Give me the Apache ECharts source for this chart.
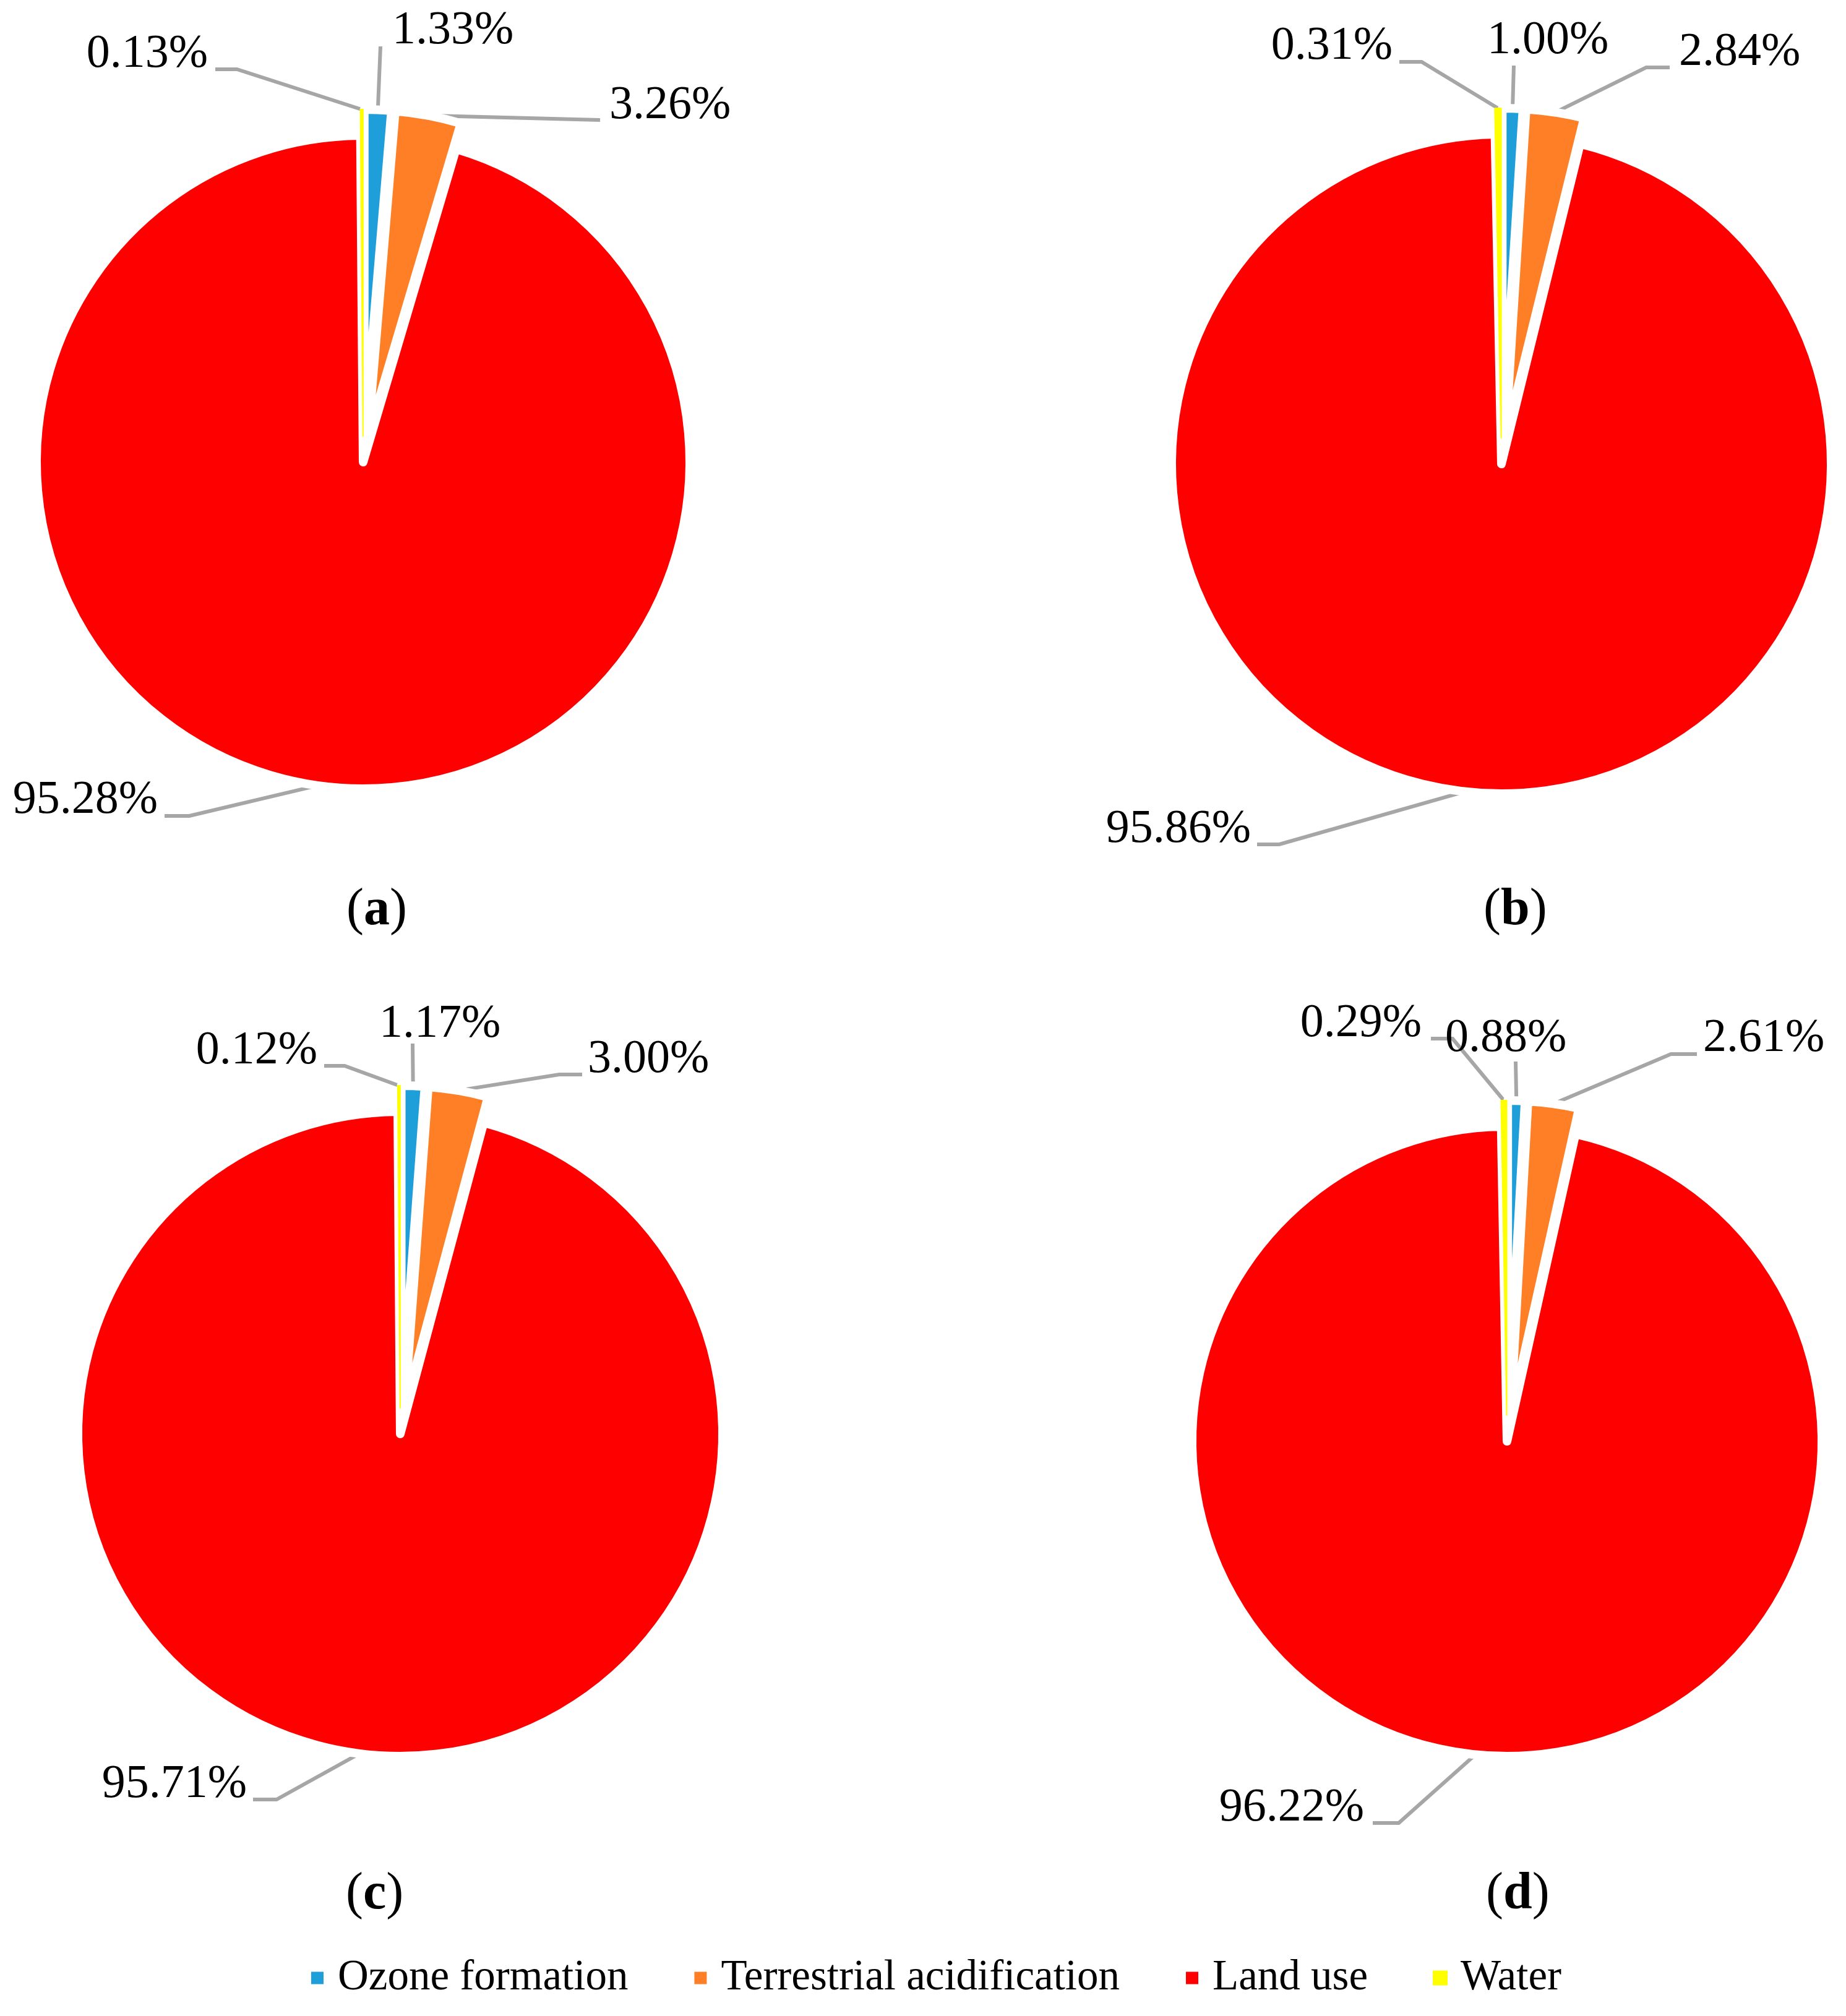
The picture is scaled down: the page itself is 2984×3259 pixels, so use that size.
<!DOCTYPE html>
<html>
<head>
<meta charset="utf-8">
<script src="https://cdn.jsdelivr.net/npm/echarts@6/dist/echarts.min.js"></script>
<style>
  html, body { margin: 0; padding: 0; background: #fff; }
  #chart { width: 2984px; height: 3259px; }
</style>
</head>
<body>
<div id="chart"></div>
<script>
const categories = ['Ozone formation', 'Terrestrial acidification', 'Land use', 'Water']
const panelNames = ['a', 'b', 'c', 'd']
const valuesA = [1.33, 3.26, 95.28, 0.13]
const valuesB = [1.00, 2.84, 95.86, 0.31]
const valuesC = [1.17, 3.00, 95.71, 0.12]
const valuesD = [0.88, 2.61, 96.22, 0.29]
const panelValues = [valuesA, valuesB, valuesC, valuesD]

const colors = ['#1e9fda', '#ff7f27', '#ff0000', '#ffff00']
const font = '"Liberation Serif", "Times New Roman", serif'
const explodeOffset = 42

// pie geometry per panel, px
const panels = [
  { center: [587, 747], radius: 528, caption: [604, 1425] },
  { center: [2427, 750], radius: 533, caption: [2442, 1425] },
  { center: [647, 2318], radius: 521, caption: [603, 3016] },
  { center: [2436, 2330], radius: 509, caption: [2446, 3016] }
]

// label spots relative to pie centre: [elbowX, elbowY, lineEndX, textX, textY, align]
const labelSpots = [
  [[28, -672, 28, 47, -697, 'left'], [383, -553, 383, 398, -576, 'left'],
   [-281, 572, -321, -332, 547, 'right'], [-204, -635, -239, -251, -659, 'right']],
  [[20, -644, 20, -23, -684, 'left'], [234, -641, 272, 287, -665, 'left'],
   [-359, 615, -395, -405, 591, 'right'], [-129, -650, -165, -176, -675, 'right']],
  [[20, -631, 20, -34, -662, 'left'], [257, -581, 294, 303, -605, 'left'],
   [-200, 591, -238, -248, 567, 'right'], [-90, -595, -123, -134, -619, 'right']],
  [[14, -614, 14, -100, -651, 'left'], [265, -626, 307, 317, -651, 'left'],
   [-175, 617, -217, -231, 593, 'right'], [-88, -651, -123, -138, -675, 'right']]
]

const isExploded = (name) => name !== 'Land use'

// visible slices, small ones pulled out
function sliceSeries(values, idx) {
  const p = panels[idx]
  return {
    type: 'pie',
    center: p.center,
    radius: p.radius,
    startAngle: 90,
    clockwise: true,
    selectedMode: 'multiple',
    selectedOffset: explodeOffset,
    emphasis: { disabled: true },
    itemStyle: { borderColor: '#fff', borderWidth: 14, borderJoin: 'round' },
    label: { show: false },
    labelLine: { show: false },
    data: categories.map((name, i) => ({
      name,
      value: values[i],
      selected: isExploded(name),
      itemStyle: name === 'Water' ? { borderColor: colors[i], borderWidth: 2 } : undefined
    }))
  }
}

// same pie, invisible, carrying the percentage labels and leader lines
function labelSeries(values, idx) {
  const p = panels[idx]
  const [cx, cy] = p.center
  return {
    type: 'pie',
    center: p.center,
    radius: p.radius,
    startAngle: 90,
    clockwise: true,
    silent: true,
    avoidLabelOverlap: false,
    emphasis: { disabled: true },
    itemStyle: { color: 'rgba(0,0,0,0)', borderWidth: 0 },
    label: {
      show: true,
      position: 'outside',
      fontFamily: font,
      fontSize: 76,
      color: '#000',
      formatter: (d) => d.value.toFixed(2) + '%'
    },
    labelLine: { show: true, length: 20, length2: 20, lineStyle: { color: '#a6a6a6', width: 6 } },
    labelLayout: (params) => {
      const s = labelSpots[idx][params.dataIndex]
      let start = params.labelLinePoints ? params.labelLinePoints[0] : [cx, cy]
      if (isExploded(categories[params.dataIndex])) {
        const vx = start[0] - cx
        const vy = start[1] - cy
        const len = Math.hypot(vx, vy) || 1
        start = [start[0] + vx / len * explodeOffset, start[1] + vy / len * explodeOffset]
      }
      return {
        x: cx + s[3],
        y: cy + s[4],
        align: s[5],
        verticalAlign: 'middle',
        labelLinePoints: [start, [cx + s[0], cy + s[1]], [cx + s[2], cy + s[1]]]
      }
    },
    data: categories.map((name, i) => ({ name, value: values[i] }))
  }
}

const chart = echarts.init(document.getElementById('chart'))
chart.setOption({
  animation: false,
  backgroundColor: '#fff',
  color: colors,
  title: panels.map((p, i) => ({
    text: '{p|(}{b|' + panelNames[i] + '}{p|)}',
    left: p.caption[0] - 49,
    top: p.caption[1],
    textStyle: {
      rich: {
        p: { fontFamily: font, fontSize: 84, fontWeight: 'normal', color: '#000' },
        b: { fontFamily: font, fontSize: 84, fontWeight: 'bold', color: '#000' }
      }
    }
  })),
  legend: {
    data: categories,
    left: 496,
    top: 3158,
    icon: 'rect',
    itemWidth: 22,
    itemHeight: 22,
    itemGap: 105,
    selectedMode: false,
    textStyle: { fontFamily: font, fontSize: 69, color: '#000', padding: [0, 0, 0, 17] }
  },
  series: panelValues.map(sliceSeries).concat(panelValues.map(labelSeries))
})
</script>
</body>
</html>
